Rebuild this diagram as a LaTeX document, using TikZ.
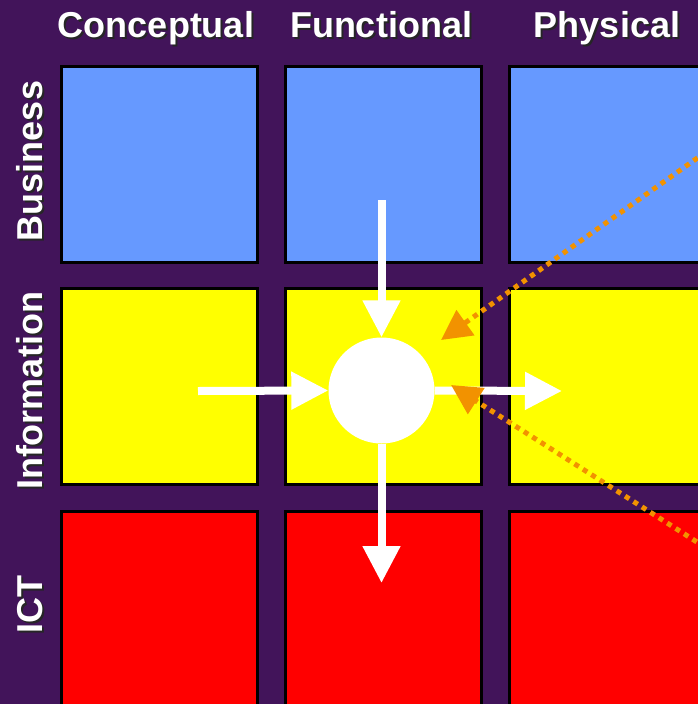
\documentclass[tikz,border=0pt]{standalone}
\usepackage{fontspec}
\setmainfont{Liberation Sans}
\usetikzlibrary{arrows.meta}
\definecolor{bgpurple}{HTML}{42145A}
\definecolor{boxblue}{HTML}{6699FF}
\definecolor{boxyellow}{HTML}{FFFF00}
\definecolor{boxred}{HTML}{FF0000}
\definecolor{dotorange}{HTML}{F29200}
\tikzset{
  cell/.style={draw=black, line width=3pt, minimum width=196pt, minimum height=196pt, inner sep=0pt, anchor=north west},
  lbl/.style={text=white, font=\fontsize{36}{40}\selectfont\bfseries, inner sep=0pt, anchor=base},
  shd/.style={lbl, text=black!85},
  warrow/.style={draw=white, line width=8pt, -{Triangle[length=37pt,width=36pt]}},
  oarrow/.style={draw=dotorange, line width=5pt, dash pattern=on 5pt off 5pt, -{Triangle[length=30pt,width=30pt]}},
  hub/.style={circle, fill=white, minimum size=106pt, inner sep=0pt}
}
\begin{document}
\begin{tikzpicture}[x=1pt,y=-1pt]
\useasboundingbox (0,0) rectangle (698,704);
\clip (0,0) rectangle (698,704);
\fill[bgpurple] (0,0) rectangle (698,704);
% cells
\node[cell, fill=boxblue]   (b1) at (59.5,64.5) {};
\node[cell, fill=boxblue]   (b2) at (283.5,64.5) {};
\node[cell, fill=boxblue]   (b3) at (507.5,64.5) {};
\node[cell, fill=boxyellow] (i1) at (59.5,286.5) {};
\node[cell, fill=boxyellow] (i2) at (283.5,286.5) {};
\node[cell, fill=boxyellow] (i3) at (507.5,286.5) {};
\node[cell, fill=boxred]    (r1) at (59.5,509.5) {};
\node[cell, fill=boxred]    (r2) at (283.5,509.5) {};
\node[cell, fill=boxred]    (r3) at (507.5,509.5) {};
% headers
\node[shd] (hcs) at (158,39) {Conceptual};
\node[lbl] (hc)  at (156,37) {Conceptual};
\node[shd] (hfs) at (383,39) {Functional};
\node[lbl] (hf)  at (381,37) {Functional};
\node[shd] (hps) at (609,39) {Physical};
\node[lbl] (hp)  at (607,37) {Physical};
% side labels
\node[shd, rotate=90] (sbs) at (44,163) {Business};
\node[lbl, rotate=90] (sb)  at (42,161) {Business};
\node[shd, rotate=90] (sis) at (44,393) {Information};
\node[lbl, rotate=90] (si)  at (42,391) {Information};
\node[shd, rotate=90] (sts) at (44,606.5) {ICT};
\node[lbl, rotate=90] (st)  at (42,604.5) {ICT};
% hub
\node[hub] (c) at (381.5,390.5) {};
\coordinate (ta) at (381.5,200);
\coordinate (la) at (198,391);
\coordinate (ra) at (562,391);
\coordinate (da) at (381.5,583);
\draw[warrow] (ta) -- (c.north);
\draw[warrow] (la) -- (c.west);
\draw[warrow] (c.east) -- (ra);
\draw[warrow] (c.south) -- (da);
% orange dotted arrows
\coordinate (o1) at (722,140.5);
\coordinate (t1) at (441,340);
\coordinate (o2) at (722,558);
\coordinate (t2) at (451,385);
\draw[oarrow] (o1) -- (t1);
\draw[oarrow] (o2) -- (t2);
\end{tikzpicture}
\end{document}
